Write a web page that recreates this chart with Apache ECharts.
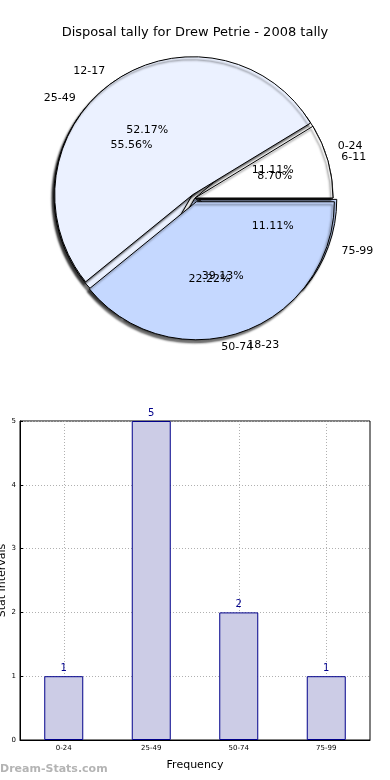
<!DOCTYPE html>
<html><head><meta charset="utf-8">
<script src="https://cdn.jsdelivr.net/npm/echarts@6/dist/echarts.min.js"></script>
<style>html,body{margin:0;padding:0;background:#fff}#c{width:390px;height:780px}</style>
</head><body><div id="c"></div>
<script>
const titleText = 'Disposal tally for Drew Petrie - 2008 tally';
const pieACats = ['6-11', '12-17', '18-23'];
const pieAValues = [2, 12, 9];
const pieBCats = ['0-24', '25-49', '50-74', '75-99'];
const pieBValues = [1, 5, 2, 1];
const barCats = ['0-24', '25-49', '50-74', '75-99'];
const barValues = [1, 5, 2, 1];
const yTicks = [0, 1, 2, 3, 4, 5];

const F = 'DejaVu Sans';
const R = 138, CX = 195, CY = 198;
const colorsA = ['#ffffff', '#ebf1ff', '#c5d8ff'];
const colorsB = ['#ffffff', '#ebf1ff', '#c5d8ff', '#c5d8ff'];
const selA = [false, true, true];
const selB = [false, true, false, true];

function pieData(cats, vals, cols, sel) {
  return cats.map((c, i) => ({ name: c, value: vals[i], selected: sel ? sel[i] : false,
    itemStyle: cols ? { color: cols[i] } : undefined }));
}
const shadow = { borderColor: '#000', borderWidth: 1, shadowColor: 'rgba(0,0,0,0.55)', shadowBlur: 2, shadowOffsetX: -2, shadowOffsetY: 3 };
function mainPie(cats, vals, cols, sel) {
  return {
    type: 'pie', center: [CX, CY], radius: [0, R], startAngle: 0, clockwise: false,
    avoidLabelOverlap: false, selectedMode: 'multiple', selectedOffset: 4,
    silent: true, animation: false,
    itemStyle: shadow,
    label: { show: true, position: 'outside', fontFamily: F, fontSize: 11, color: '#000', distanceToLabelLine: 0, formatter: '{b}' },
    labelLine: { show: false, length: R * 0.1, length2: 0 },
    labelLayout: { hideOverlap: false },
    emphasis: { disabled: true },
    data: pieData(cats, vals, cols, sel)
  };
}
function pctPie(cats, vals) {
  const R2 = (0.6 * R - 3) * 2;
  return {
    type: 'pie', center: [CX, CY], radius: [0, R2], startAngle: 0, clockwise: false,
    avoidLabelOverlap: false, silent: true, animation: false, z: 10,
    itemStyle: { color: 'rgba(0,0,0,0)', borderWidth: 0 },
    label: { show: true, position: 'inside', fontFamily: F, fontSize: 11, color: '#000',
      formatter: p => p.percent.toFixed(2) + '%' },
    labelLine: { show: false },
    labelLayout: { hideOverlap: false },
    emphasis: { disabled: true },
    data: pieData(cats, vals, null, null)
  };
}

const chart = echarts.init(document.getElementById('c'), null, { renderer: 'canvas' });
chart.setOption({
  animation: false,
  backgroundColor: '#fff',
  title: { text: titleText, left: 'center', top: 21, textStyle: { fontFamily: F, fontSize: 13, fontWeight: 'normal', color: '#000' } },
  graphic: [{ type: 'text', left: 0, top: 764, style: { text: 'Dream-Stats.com', fontFamily: F, fontSize: 11, fontWeight: 'bold', fill: '#b4b4b4' } }],
  grid: { left: 20, right: 20, top: 421, height: 319, outerBoundsMode: 'none', containLabel: false, show: true, borderColor: '#000', borderWidth: 1, backgroundColor: 'transparent' },
  xAxis: {
    type: 'category', data: barCats,
    name: 'Frequency', nameLocation: 'middle', nameGap: 20, nameMoveOverlap: false,
    nameTextStyle: { fontFamily: F, fontSize: 11, color: '#000' },
    axisLine: { lineStyle: { color: '#000' } },
    axisTick: { show: true, alignWithLabel: true, inside: true, length: 3, lineStyle: { color: '#000' } },
    axisLabel: { fontFamily: F, fontSize: 7, color: '#000', margin: 5 },
    splitLine: { show: false }
  },
  yAxis: {
    type: 'value', min: yTicks[0], max: yTicks[yTicks.length - 1], interval: 1,
    name: 'Stat Intervals', nameLocation: 'middle', nameGap: 12, nameRotate: 90, nameMoveOverlap: false,
    nameTextStyle: { fontFamily: F, fontSize: 11, color: '#000' },
    axisLine: { show: true, lineStyle: { color: '#000' } },
    axisTick: { show: true, inside: true, length: 3, lineStyle: { color: '#000' } },
    axisLabel: { fontFamily: F, fontSize: 7, color: '#000', margin: 4 },
    splitLine: { show: true, lineStyle: { color: '#b0b0b0', type: [1, 2], width: 1 } }
  },
  series: [
    mainPie(pieBCats, pieBValues, colorsB, selB),
    mainPie(pieACats, pieAValues, colorsA, selA),
    pctPie(pieACats, pieAValues),
    pctPie(pieBCats, pieBValues),
    {
      type: 'bar', data: barValues, barWidth: 39, silent: true,
      itemStyle: { color: '#cccce6', borderColor: '#00008b', borderWidth: 1 },
      label: { show: true, position: 'top', distance: 3, fontFamily: F, fontSize: 10, color: '#00008b' },
      markLine: {
        silent: true, symbol: 'none', label: { show: false }, z: 1,
        lineStyle: { color: '#b0b0b0', type: [1, 2], width: 1 },
        data: barCats.map(c => ({ xAxis: c }))
      }
    }
  ]
});
</script></body></html>
